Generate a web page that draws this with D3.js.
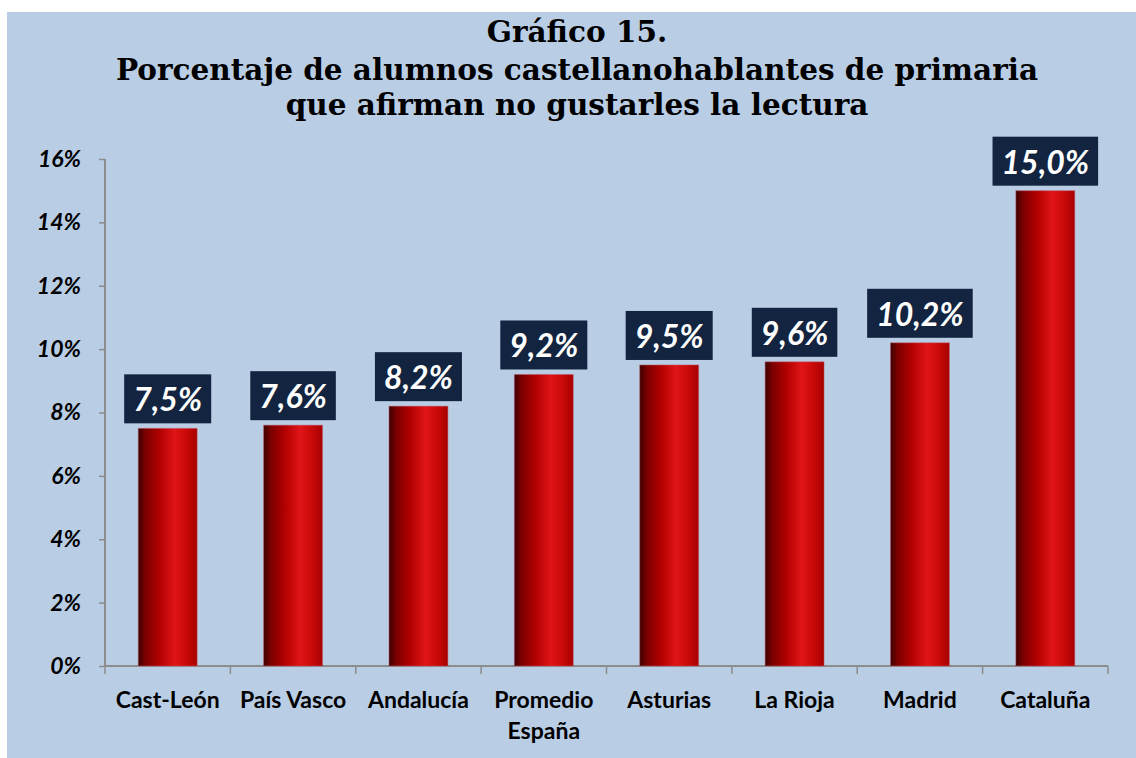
<!DOCTYPE html>
<html><head><meta charset="utf-8">
<script src="https://cdn.jsdelivr.net/npm/d3@7/dist/d3.min.js"></script>
<style>body{margin:0;background:#fff}svg{display:block}</style>
</head><body>
<svg id="c" width="1136" height="758"></svg>
<script>
const categories = ["Cast-León","País Vasco","Andalucía","Promedio España","Asturias","La Rioja","Madrid","Cataluña"];
const values = [7.5, 7.6, 8.2, 9.2, 9.5, 9.6, 10.2, 15.0];
const valueLabels = ["7,5%","7,6%","8,2%","9,2%","9,5%","9,6%","10,2%","15,0%"];
const yTicks = [0,2,4,6,8,10,12,14,16];
const titleLines = ["Gráfico 15.","Porcentaje de alumnos castellanohablantes de primaria","que afirman no gustarles la lectura"];

const svg = d3.select("#c");
svg.append("rect").attr("x",7).attr("y",12).attr("width",1129).attr("height",746).attr("fill","#b9cde5");

const defs = svg.append("defs");
const g = defs.append("linearGradient").attr("id","barg").attr("x1","0").attr("x2","1").attr("y1","0").attr("y2","0");
[[0,"#3c0000"],[0.12,"#7a0000"],[0.35,"#b00000"],[0.62,"#e01418"],[0.8,"#cc0a0a"],[1,"#a80000"]].forEach(([o,c])=>g.append("stop").attr("offset",o).attr("stop-color",c));

const x = d3.scaleBand().domain(categories).range([105,1108]).paddingInner(0.53).paddingOuter(0.265);
const y = d3.scaleLinear().domain([0,16]).range([666,159]);

// title
const tt = svg.append("g");
const ty = [42, 80, 115];
titleLines.forEach((t,i)=>{
  tt.append("text").attr("x",577).attr("y",ty[i]).attr("text-anchor","middle")
    .attr("font-family","DejaVu Serif").attr("font-weight","bold").attr("font-size",29.5)
    .attr("fill","#000").text(t);
});

// y axis
const ya = svg.append("g").attr("transform","translate(105,0)")
  .call(d3.axisLeft(y).tickValues(yTicks).tickSize(6).tickFormat(d=>d+"%"));
ya.select(".domain").attr("stroke","#8c8c8c").attr("stroke-width",2).attr("d","M0,159V666");
ya.selectAll(".tick line").attr("stroke","#8c8c8c").attr("stroke-width",1.5);
ya.selectAll(".tick text").attr("x",-24).attr("font-family","Lato").attr("font-weight","bold").attr("font-style","italic").attr("font-size",23).attr("fill","#000");

// x axis
const xa = svg.append("g").attr("transform","translate(0,666)")
  .call(d3.axisBottom(x).tickSize(0).tickFormat(""));
xa.select(".domain").attr("stroke","#8c8c8c").attr("stroke-width",2).attr("d","M105,0H1108");
const edges = categories.map(c=>x(c)-x.step()*x.paddingInner()/2).concat([1108]);
xa.selectAll(".sep").data(edges).enter().append("line").attr("class","sep")
  .attr("x1",d=>d).attr("x2",d=>d).attr("y1",0).attr("y2",8).attr("stroke","#8c8c8c").attr("stroke-width",1.5);
const lab = svg.append("g");
categories.forEach(c=>{
  const parts = c==="Promedio España" ? ["Promedio","España"] : [c];
  parts.forEach((p,j)=>{
    lab.append("text").attr("x",x(c)+x.bandwidth()/2).attr("y",708+j*31).attr("text-anchor","middle")
      .attr("font-family","Lato").attr("font-weight","bold").attr("font-size",23).attr("fill","#000").text(p);
  });
});

// bars
svg.append("g").selectAll("rect").data(values).enter().append("rect")
  .attr("x",(d,i)=>x(categories[i])).attr("width",x.bandwidth())
  .attr("y",d=>y(d)).attr("height",d=>y(0)-y(d))
  .attr("fill","url(#barg)").attr("stroke","#c06070").attr("stroke-opacity",0.5).attr("stroke-width",1);

// value labels
const vl = svg.append("g");
values.forEach((v,i)=>{
  const cx = x(categories[i])+x.bandwidth()/2;
  const t = vl.append("text").attr("x",cx).attr("y",y(v)-17).attr("text-anchor","middle")
    .attr("font-family","Lato").attr("font-weight","bold").attr("font-style","italic").attr("font-size",32)
    .attr("fill","#fff").text(valueLabels[i]);
  const w = t.node().getComputedTextLength();
  vl.insert("rect","text").attr("x",cx-w/2-9).attr("y",y(v)-54).attr("width",w+18).attr("height",49).attr("fill","#12243f");
});
</script>
</body></html>
